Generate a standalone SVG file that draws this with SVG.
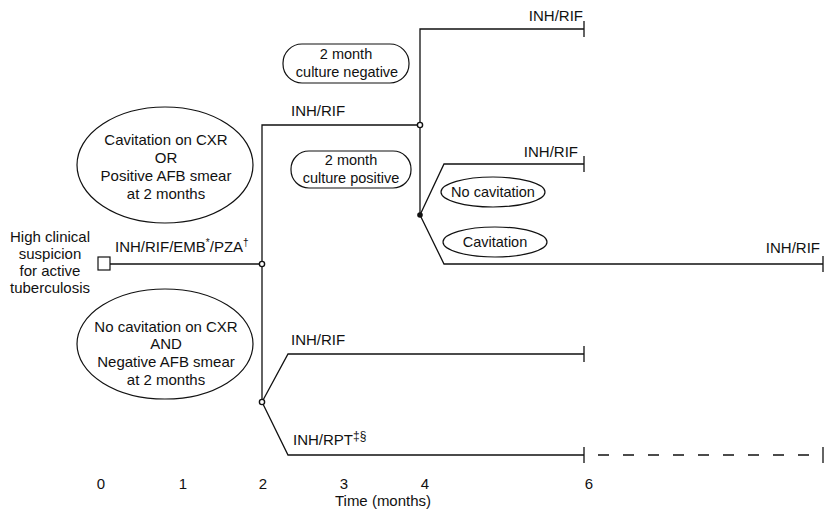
<svg xmlns="http://www.w3.org/2000/svg" width="830" height="514" viewBox="0 0 830 514">
<style>
text{font-family:"Liberation Sans",Arial,sans-serif;font-size:15px;fill:#111}
.c{text-anchor:middle}
.e{text-anchor:end}
.s{font-size:14.5px}
.ln{stroke:#111;stroke-width:1.3;fill:none}
.sh{stroke:#111;stroke-width:1.2;fill:#fff}
.nd{fill:#fff;stroke:#111;stroke-width:1.4}
</style>
<rect width="830" height="514" fill="#fff"/>
<g id="connectors">
<path class="ln" d="M110,264 H262"/>
<path class="ln" d="M262,402 V125 H420"/>
<path class="ln" d="M420,215 V29 H584 M584,21 V37"/>
<path class="ln" d="M420,215 L444,164 H584 M584,156 V172"/>
<path class="ln" d="M420,215 L444,264 H823 M823,256 V272"/>
<path class="ln" d="M262,402 L288,354 H584 M584,346 V362"/>
<path class="ln" d="M262,402 L288,455 H584 M584,447 V463"/>
<path class="ln" d="M598,455 H823" stroke-dasharray="11,14"/>
<path class="ln" d="M823,447 V463"/>
<circle class="nd" cx="262" cy="264" r="2.6"/>
<circle class="nd" cx="420" cy="125" r="2.6"/>
<circle class="nd" cx="262" cy="402" r="2.6"/>
<circle cx="420" cy="215" r="2.8" fill="#111"/>
</g>
<g id="start">
<rect class="sh" x="98" y="257" width="12" height="13"/>
<text class="c" x="50" y="242">High clinical</text>
<text class="c" x="50" y="259">suspicion</text>
<text class="c" x="50" y="276">for active</text>
<text class="c" x="50" y="293">tuberculosis</text>
</g>
<g id="cav-or-pos">
<ellipse class="sh" cx="165" cy="165" rx="88" ry="58"/>
<text class="c" x="166" y="145">Cavitation on CXR</text>
<text class="c" x="166" y="163">OR</text>
<text class="c" x="166" y="181">Positive AFB smear</text>
<text class="c" x="166" y="199">at 2 months</text>
</g>
<g id="nocav-and-neg">
<ellipse class="sh" cx="165" cy="344" rx="88" ry="55"/>
<text class="c" x="166" y="332">No cavitation on CXR</text>
<text class="c" x="166" y="349">AND</text>
<text class="c" x="166" y="367">Negative AFB smear</text>
<text class="c" x="166" y="385">at 2 months</text>
</g>
<g id="culture-neg">
<rect class="sh" x="283" y="44" width="126" height="39" rx="19"/>
<text class="c s" x="346" y="59">2 month</text>
<text class="c s" x="347" y="77">culture negative</text>
</g>
<g id="culture-pos">
<rect class="sh" x="291" y="151" width="120" height="37" rx="18"/>
<text class="c s" x="351" y="165">2 month</text>
<text class="c s" x="351" y="183">culture positive</text>
</g>
<g id="no-cavitation">
<ellipse class="sh" cx="493" cy="192" rx="52" ry="15"/>
<text class="c s" x="493" y="197">No cavitation</text>
</g>
<g id="cavitation">
<ellipse class="sh" cx="495" cy="242" rx="52" ry="15"/>
<text class="c s" x="495" y="247">Cavitation</text>
</g>
<g id="labels">
<text x="115" y="252">INH/RIF/EMB<tspan font-size="10" dy="-6">*</tspan><tspan dy="6">/PZA</tspan><tspan font-size="10" dy="-6">†</tspan></text>
<text x="291" y="116">INH/RIF</text>
<text class="e" x="583" y="21">INH/RIF</text>
<text class="e" x="578" y="157">INH/RIF</text>
<text class="e" x="820" y="253">INH/RIF</text>
<text x="291" y="345">INH/RIF</text>
<text x="293" y="445">INH/RPT<tspan font-size="12" dy="-5">‡§</tspan></text>
</g>
<g id="axis">
<text class="c" x="101" y="489">0</text>
<text class="c" x="183" y="489">1</text>
<text class="c" x="263" y="489">2</text>
<text class="c" x="344" y="489">3</text>
<text class="c" x="425" y="489">4</text>
<text class="c" x="589" y="489">6</text>
<text class="c" x="383" y="506">Time (months)</text>
</g>
</svg>
